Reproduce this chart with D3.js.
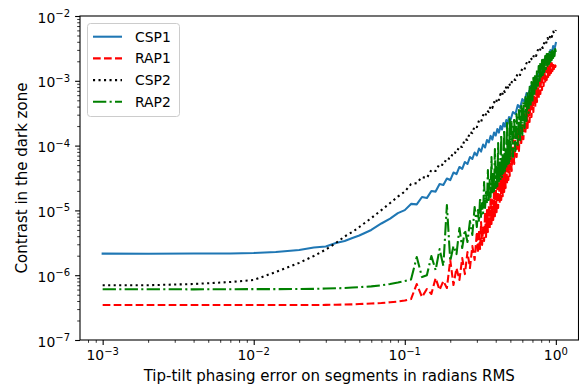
<!DOCTYPE html>
<html>
<head>
<meta charset="utf-8">
<script src="https://cdn.jsdelivr.net/npm/d3@7"></script>
<style>
  body { margin: 0; background: #fff; }
  svg { display: block; font-family: "DejaVu Sans", sans-serif; }
</style>
</head>
<body>
<svg id="chart" width="579" height="387"></svg>
<script>
// tip-tilt error (rad RMS) for the CSP curves
var xs = [0.001, 0.002, 0.004, 0.007, 0.01, 0.014, 0.02, 0.025, 0.03, 0.035, 0.04, 0.045, 0.05, 0.06, 0.07, 0.08, 0.09,
  0.10, 0.11, 0.12, 0.13, 0.14, 0.15, 0.16, 0.17, 0.18, 0.19, 0.20, 0.21, 0.22, 0.23, 0.24, 0.25, 0.26, 0.27, 0.28, 0.29,
  0.30, 0.31, 0.32, 0.33, 0.34, 0.35, 0.36, 0.37, 0.38, 0.39, 0.40, 0.41, 0.42, 0.43, 0.44, 0.45, 0.46, 0.47, 0.48, 0.49, 0.50,
  0.52, 0.54, 0.56, 0.58, 0.60, 0.62, 0.64, 0.66, 0.68, 0.70, 0.72, 0.74, 0.76, 0.78, 0.80, 0.82, 0.84, 0.86, 0.88, 0.90,
  0.92, 0.94, 0.96, 0.98, 1.00];

// the RAP curves are sampled more densely where they get noisy
var xsRap = [0.001, 0.002, 0.004, 0.007, 0.01, 0.014, 0.02, 0.025, 0.03, 0.035, 0.04, 0.045, 0.05, 0.06, 0.07, 0.08, 0.09,
  0.10, 0.11, 0.12, 0.13, 0.14, 0.15, 0.16, 0.17, 0.18, 0.19, 0.20, 0.21, 0.22, 0.23, 0.24, 0.25, 0.26, 0.27, 0.28, 0.29,
  0.300, 0.305, 0.310, 0.315, 0.320, 0.325, 0.330, 0.335, 0.340, 0.345, 0.350, 0.355, 0.360, 0.365, 0.370, 0.375, 0.380,
  0.385, 0.390, 0.395, 0.400, 0.405, 0.410, 0.415, 0.420, 0.425, 0.430, 0.435, 0.440, 0.445, 0.450, 0.455, 0.460, 0.465,
  0.470, 0.475, 0.480, 0.485, 0.490, 0.495, 0.500,
  0.51, 0.52, 0.53, 0.54, 0.55, 0.56, 0.57, 0.58, 0.59, 0.60, 0.61, 0.62, 0.63, 0.64, 0.65, 0.66, 0.67, 0.68, 0.69, 0.70,
  0.71, 0.72, 0.73, 0.74, 0.75, 0.76, 0.77, 0.78, 0.79, 0.80, 0.81, 0.82, 0.83, 0.84, 0.85, 0.86, 0.87, 0.88, 0.89, 0.90,
  0.91, 0.92, 0.93, 0.94, 0.95, 0.96, 0.97, 0.98, 0.99, 1.00];

var csp1 = [2.15e-6, 2.14e-6, 2.16e-6, 2.16e-6, 2.20e-6, 2.28e-6, 2.45e-6, 2.67e-6, 2.77e-6, 3.14e-6, 3.37e-6, 3.75e-6, 4.10e-6, 4.99e-6, 6.28e-6, 7.47e-6, 9.07e-6,
  1.01e-5, 1.26e-5, 1.24e-5, 1.61e-5, 1.55e-5, 1.99e-5, 1.95e-5, 2.55e-5, 2.46e-5, 3.10e-5, 2.94e-5, 3.84e-5, 3.64e-5, 4.68e-5, 4.36e-5, 5.59e-5, 5.20e-5, 6.66e-5, 6.21e-5, 7.82e-5,
  7.03e-5, 9.02e-5, 8.10e-5, 1.04e-4, 9.34e-5, 1.22e-4, 1.12e-4, 1.41e-4, 1.24e-4, 1.59e-4, 1.43e-4, 1.80e-4, 1.59e-4, 2.00e-4, 1.77e-4, 2.23e-4, 1.97e-4, 2.48e-4, 2.19e-4, 2.76e-4, 2.44e-4,
  3.30e-4, 3.07e-4, 4.23e-4, 3.81e-4, 5.24e-4, 4.71e-4, 6.48e-4, 6.03e-4, 8.32e-4, 7.48e-4, 1.03e-3, 9.25e-4, 1.27e-3, 1.19e-3, 1.63e-3, 1.47e-3, 2.02e-3, 1.81e-3, 2.50e-3, 2.17e-3,
  2.99e-3, 2.59e-3, 3.44e-3, 3.09e-3, 3.83e-3];

var csp2 = [6.98e-7, 7.00e-7, 7.31e-7, 7.85e-7, 8.43e-7, 1.12e-6, 1.55e-6, 1.98e-6, 2.49e-6, 3.14e-6, 3.96e-6, 4.65e-6, 5.54e-6, 7.60e-6, 1.01e-5, 1.30e-5, 1.63e-5,
  1.95e-5, 2.55e-5, 2.64e-5, 3.27e-5, 3.16e-5, 4.20e-5, 4.05e-5, 5.20e-5, 5.02e-5, 6.43e-5, 6.21e-5, 7.96e-5, 7.68e-5, 9.85e-5, 9.51e-5, 1.26e-4, 1.22e-4, 1.62e-4, 1.56e-4, 2.00e-4,
  1.93e-4, 2.44e-4, 2.31e-4, 2.96e-4, 2.76e-4, 3.48e-4, 3.30e-4, 4.09e-4, 3.81e-4, 4.71e-4, 4.39e-4, 5.43e-4, 5.06e-4, 6.25e-4, 5.82e-4, 7.21e-4, 6.71e-4, 8.17e-4, 7.48e-4, 9.10e-4, 8.32e-4,
  1.07e-3, 1.03e-3, 1.32e-3, 1.23e-3, 1.57e-3, 1.49e-3, 1.88e-3, 1.78e-3, 2.25e-3, 2.09e-3, 2.59e-3, 2.42e-3, 2.99e-3, 2.78e-3, 3.44e-3, 3.21e-3, 3.97e-3, 3.69e-3, 4.57e-3, 4.18e-3,
  5.09e-3, 4.74e-3, 5.76e-3, 5.37e-3, 6.08e-3];

var rap1 = [3.46e-7, 3.46e-7, 3.46e-7, 3.46e-7, 3.46e-7, 3.46e-7, 3.46e-7, 3.47e-7, 3.48e-7, 3.50e-7, 3.52e-7, 3.55e-7, 3.59e-7, 3.66e-7, 3.72e-7, 3.83e-7, 3.92e-7,
  4.07e-7, 4.29e-7, 7.31e-7, 4.61e-7, 6.12e-7, 5.13e-7, 9.03e-7, 5.91e-7, 8.14e-7, 6.34e-7, 1.72e-6, 7.05e-7, 1.29e-6, 8.43e-7, 1.84e-6, 1.04e-6, 2.28e-6, 1.29e-6, 2.82e-6, 1.72e-6,
  4.65e-6, 2.20e-6, 4.99e-6, 2.53e-6, 6.62e-6, 2.92e-6, 5.74e-6, 3.37e-6, 9.40e-6, 3.89e-6, 1.01e-5, 4.65e-6, 1.17e-5, 5.35e-6, 1.55e-5, 6.17e-6, 1.45e-5,
  7.11e-6, 2.21e-5, 8.16e-6, 2.55e-5, 9.40e-6, 2.37e-5, 1.09e-5, 3.39e-5, 1.26e-5, 3.91e-5, 1.45e-5, 3.64e-5, 1.66e-5, 5.20e-5, 1.92e-5, 6.00e-5, 2.21e-5,
  5.59e-5, 2.55e-5, 7.96e-5, 2.94e-5, 8.55e-5, 3.39e-5, 9.85e-5,
  4.05e-5, 1.22e-4, 5.20e-5, 1.51e-4, 6.66e-5, 1.87e-4, 8.25e-5, 2.31e-4, 1.02e-4, 2.76e-4, 1.26e-4, 3.30e-4, 1.56e-4, 3.94e-4, 1.87e-4, 4.71e-4, 2.31e-4, 5.62e-4, 2.76e-4, 6.48e-4,
  3.30e-4, 7.48e-4, 3.94e-4, 8.62e-4, 4.71e-4, 9.94e-4, 5.43e-4, 1.11e-3, 6.25e-4, 1.23e-3, 7.21e-4, 1.37e-3, 8.32e-4, 1.47e-3, 9.25e-4, 1.57e-3, 1.03e-3, 1.69e-3, 1.15e-3, 1.75e-3,
  1.23e-3, 1.81e-3, 1.32e-3, 1.88e-3, 1.42e-3, 1.88e-3, 1.52e-3, 1.88e-3, 1.63e-3, 1.75e-3];

var rap2 = [6.06e-7, 6.06e-7, 6.05e-7, 6.06e-7, 6.10e-7, 6.10e-7, 6.12e-7, 6.15e-7, 6.23e-7, 6.28e-7, 6.34e-7, 6.44e-7, 6.53e-7, 6.73e-7, 6.98e-7, 7.31e-7, 7.71e-7,
  8.14e-7, 8.56e-7, 1.91e-6, 9.35e-7, 1.00e-6, 1.98e-6, 1.20e-6, 2.53e-6, 1.39e-6, 1.21e-5, 1.66e-6, 2.82e-6, 2.12e-6, 5.35e-6, 2.63e-6, 4.99e-6, 3.25e-6, 6.86e-6, 4.18e-6, 1.13e-5,
  5.54e-6, 1.01e-5, 6.62e-6, 1.55e-5, 7.60e-6, 1.30e-5, 9.07e-6, 2.74e-5, 1.09e-5, 1.92e-5, 1.26e-5, 4.20e-5, 1.45e-5, 2.94e-5, 1.61e-5, 6.66e-5, 1.79e-5,
  3.91e-5, 1.99e-5, 8.86e-5, 2.21e-5, 4.68e-5, 2.37e-5, 1.10e-4, 2.64e-5, 6.00e-5, 2.94e-5, 1.46e-4, 3.16e-5, 7.42e-5, 3.51e-5, 1.74e-4, 3.91e-5, 9.18e-5,
  4.36e-5, 2.23e-4, 4.85e-5, 1.14e-4, 5.39e-5, 2.57e-4, 6.00e-5,
  2.31e-4, 6.66e-5, 2.66e-4, 8.25e-5, 3.07e-4, 1.02e-4, 3.54e-4, 1.22e-4, 4.09e-4, 1.46e-4, 4.71e-4, 1.87e-4, 5.62e-4, 2.39e-4, 6.71e-4, 3.18e-4, 8.03e-4, 3.94e-4, 9.59e-4, 4.71e-4,
  1.11e-3, 5.82e-4, 1.27e-3, 6.96e-4, 1.47e-3, 8.32e-4, 1.69e-3, 9.59e-4, 1.95e-3, 1.11e-3, 2.09e-3, 1.23e-3, 2.25e-3, 1.37e-3, 2.42e-3, 1.52e-3, 2.59e-3, 1.69e-3, 2.78e-3, 1.81e-3,
  2.89e-3, 1.95e-3, 2.99e-3, 2.09e-3, 3.09e-3, 2.25e-3, 3.09e-3, 2.42e-3, 3.09e-3, 2.78e-3];

var seriesNames = ["CSP1", "RAP1", "CSP2", "RAP2"];
var xTickValues = [1e-3, 1e-2, 1e-1, 1];
var xTickExps = ["\u22123", "\u22122", "\u22121", "0"];
var yTickValues = [1e-7, 1e-6, 1e-5, 1e-4, 1e-3, 1e-2];
var yTickExps = ["\u22127", "\u22126", "\u22125", "\u22124", "\u22123", "\u22122"];

var svg = d3.select("#chart");
var axL = 80, axR = 578.5, axT = 16, axB = 340;

var x = d3.scaleLog().domain([Math.pow(10, -3.15), Math.pow(10, 0.15)]).range([axL, axR]);
var y = d3.scaleLog().domain([1e-7, 1e-2]).range([axB, axT]);

var styles = [
  { color: "#1f77b4", dash: null },
  { color: "#ff0000", dash: "7.7,3.3" },
  { color: "#000000", dash: "2.1,3.4" },
  { color: "#008000", dash: "13.3,3.3,2.1,3.3" }
];
var allSeries = [
  { xv: xs, yv: csp1 },
  { xv: xsRap, yv: rap1 },
  { xv: xs, yv: csp2 },
  { xv: xsRap, yv: rap2 }
];

svg.append("defs").append("clipPath").attr("id", "clip")
  .append("rect").attr("x", axL).attr("y", axT).attr("width", axR - axL).attr("height", axB - axT);

var plot = svg.append("g").attr("clip-path", "url(#clip)");
allSeries.forEach(function(s, k) {
  var line = d3.line()
    .x(function(d, i) { return x(s.xv[i]); })
    .y(function(d) { return y(d); });
  plot.append("path")
    .datum(s.yv)
    .attr("d", line)
    .attr("fill", "none")
    .attr("stroke", styles[k].color)
    .attr("stroke-width", 2.08)
    .attr("stroke-linejoin", "round")
    .attr("stroke-linecap", styles[k].dash ? "butt" : "square")
    .attr("stroke-dasharray", styles[k].dash);
});

// minor ticks
function minors(lo, hi) {
  var out = [];
  for (var e = lo; e <= hi; e++)
    for (var m = 2; m <= 9; m++) out.push(m * Math.pow(10, e));
  return out;
}
var xMin = minors(-4, 0).filter(function(v) { return v >= x.domain()[0] && v <= x.domain()[1]; });
var yMin = minors(-7, -3);

var gx = svg.append("g").attr("transform", "translate(0," + axB + ")");
gx.append("g").call(d3.axisBottom(x).tickValues(xMin).tickSize(2.8).tickFormat(""))
  .selectAll(".tick line").attr("stroke-width", 0.8);
gx.append("g").call(d3.axisBottom(x).tickValues(xTickValues).tickSize(4.9).tickFormat(""))
  .selectAll(".tick line").attr("stroke-width", 1.1);
gx.selectAll(".domain").remove();

var gy = svg.append("g").attr("transform", "translate(" + axL + ",0)");
gy.append("g").call(d3.axisLeft(y).tickValues(yMin).tickSize(2.8).tickFormat(""))
  .selectAll(".tick line").attr("stroke-width", 0.8);
gy.append("g").call(d3.axisLeft(y).tickValues(yTickValues).tickSize(4.9).tickFormat(""))
  .selectAll(".tick line").attr("stroke-width", 1.1);
gy.selectAll(".domain").remove();

// frame
svg.append("rect")
  .attr("x", axL).attr("y", axT).attr("width", axR - axL).attr("height", axB - axT)
  .attr("fill", "none").attr("stroke", "#000").attr("stroke-width", 1.1);

// tick labels as 10^n
function powLabel(g, exp) {
  g.append("tspan").text("10");
  g.append("tspan").attr("dy", -5.5).attr("font-size", 10).text(exp);
}
xTickValues.forEach(function(v, i) {
  var t = svg.append("text").attr("x", x(v)).attr("y", 360)
    .attr("text-anchor", "middle").attr("font-size", 13.9).attr("fill", "#000");
  powLabel(t, xTickExps[i]);
});
yTickValues.forEach(function(v, i) {
  var t = svg.append("text").attr("x", 70).attr("y", y(v) + 6.5)
    .attr("text-anchor", "end").attr("font-size", 13.9).attr("fill", "#000");
  powLabel(t, yTickExps[i]);
});

svg.append("text")
  .attr("x", (axL + axR) / 2).attr("y", 381)
  .attr("text-anchor", "middle").attr("font-size", 15)
  .text("Tip-tilt phasing error on segments in radians RMS");

svg.append("text")
  .attr("transform", "translate(27," + (axT + axB) / 2 + ") rotate(-90)")
  .attr("text-anchor", "middle").attr("font-size", 15)
  .text("Contrast in the dark zone");

// legend
var legend = svg.append("g");
legend.append("rect")
  .attr("x", 87.5).attr("y", 23.5).attr("width", 92).attr("height", 93).attr("rx", 3)
  .attr("fill", "#fff").attr("fill-opacity", 0.8).attr("stroke", "#cccccc").attr("stroke-width", 1);
seriesNames.forEach(function(name, k) {
  var ly = 36.7 + k * 21.7;
  legend.append("line")
    .attr("x1", 93).attr("x2", 122).attr("y1", ly).attr("y2", ly)
    .attr("stroke", styles[k].color).attr("stroke-width", 2.08)
    .attr("stroke-dasharray", styles[k].dash);
  legend.append("text").attr("x", 135).attr("y", ly + 5)
    .attr("font-size", 13.9).text(name);
});
</script>
</body>
</html>
